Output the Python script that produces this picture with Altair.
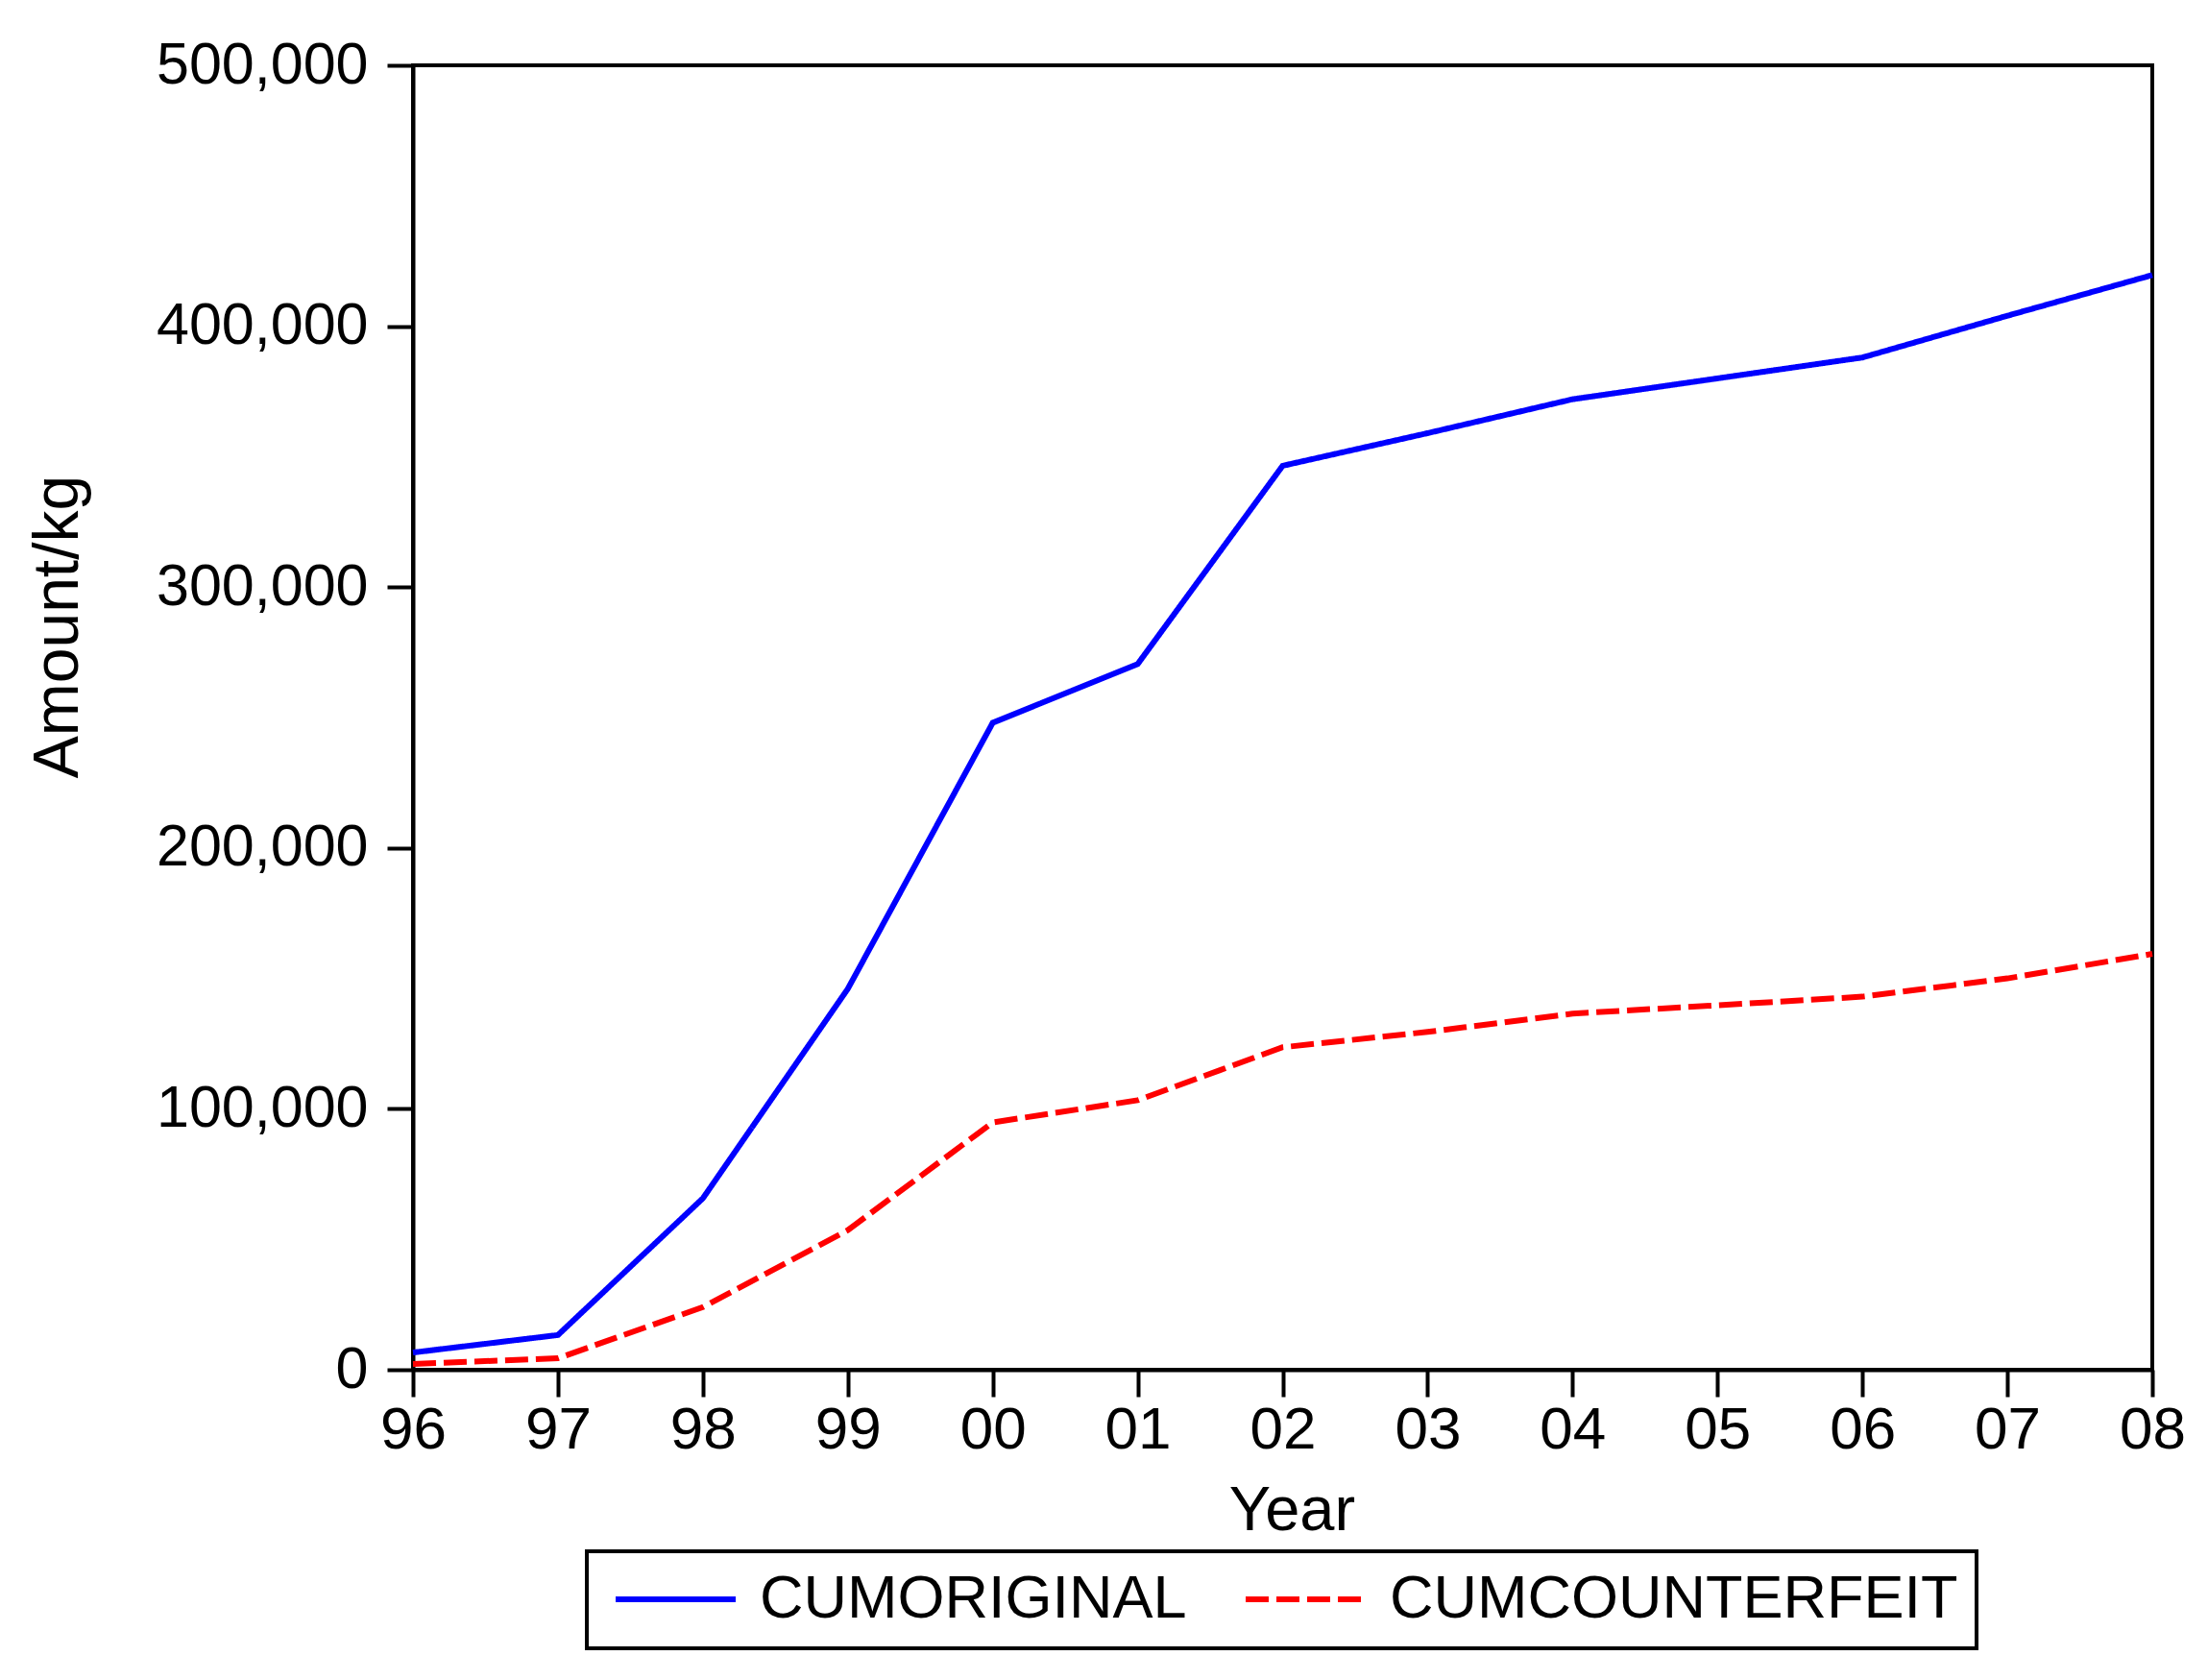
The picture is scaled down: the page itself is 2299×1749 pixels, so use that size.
import altair as alt
import pandas as pd

years = ["96", "97", "98", "99", "00", "01", "02", "03", "04", "05", "06", "07", "08"]
cum_original = [6600, 13300, 65700, 146000, 248000, 270500, 346500, 359000, 372000, 380000, 388000, 404000, 419600]
cum_counterfeit = [2200, 4400, 24000, 53500, 94800, 103300, 123600, 129500, 136500, 139700, 143000, 150000, 159400]
series_names = ["CUMORIGINAL", "CUMCOUNTERFEIT"]
y_ticks = [0, 100000, 200000, 300000, 400000, 500000]

rows = []
for i, yr in enumerate(years):
    rows.append({"year": yr, "series": series_names[0], "value": cum_original[i]})
    rows.append({"year": yr, "series": series_names[1], "value": cum_counterfeit[i]})
df = pd.DataFrame(rows)

FONT = "Liberation Sans"

chart = alt.Chart(df).mark_line(strokeWidth=6, strokeCap="butt").encode(
    x=alt.X("year:O", sort=years,
            scale=alt.Scale(type="point", padding=0),
            axis=alt.Axis(title="Year", labelAngle=0, labelFontSize=62, labelPadding=4,
                          tickSize=28, tickWidth=4, tickColor="black",
                          domainColor="black", domainWidth=4,
                          titleFontSize=65, titleFontWeight="normal",
                          titleX=915, titleY=166, titleBaseline="alphabetic",
                          labelColor="black", titleColor="black", labelLimit=1000,
                          labelFont=FONT, titleFont=FONT, grid=False)),
    y=alt.Y("value:Q",
            scale=alt.Scale(domain=[0, 500000], nice=False, zero=True),
            axis=alt.Axis(title="Amount/kg", values=y_ticks, format=",.0f",
                          labelFontSize=61, labelPadding=20, labelLimit=1000,
                          tickSize=27, tickWidth=4, tickColor="black",
                          domainColor="black", domainWidth=4,
                          titleFontSize=66, titleFontWeight="normal",
                          titleAngle=270, titleX=-350, titleY=584,
                          titleAlign="center", titleBaseline="alphabetic",
                          labelColor="black", titleColor="black",
                          labelFont=FONT, titleFont=FONT, grid=False)),
    color=alt.Color("series:N", sort=series_names,
                    scale=alt.Scale(domain=series_names, range=["#0000FF", "#FF0000"]),
                    legend=alt.Legend(title=None, orient="none", direction="horizontal",
                                      legendX=181, legendY=1547,
                                      symbolType="stroke", symbolSize=15625,
                                      symbolStrokeWidth=6, symbolOffset=8,
                                      clipHeight=62,
                                      labelFontSize=63, labelFont=FONT, labelColor="black",
                                      labelLimit=1000,
                                      labelOffset=22, columnPadding=50, padding=19,
                                      strokeColor="black")),
    strokeDash=alt.StrokeDash("series:N", sort=series_names,
                              scale=alt.Scale(domain=series_names, range=[[1, 0], [24, 8]]),
                              legend=None),
).properties(
    width=1811, height=1358,
    autosize=alt.AutoSizeParams(type="none"),
    padding={"left": 422, "top": 60, "right": 50, "bottom": 315},
    background="white",
).configure_view(
    stroke="black", strokeWidth=4
).configure_legend(
    strokeWidth=4
)

chart.save("out.html", embed_options={"renderer": "svg", "actions": False})
